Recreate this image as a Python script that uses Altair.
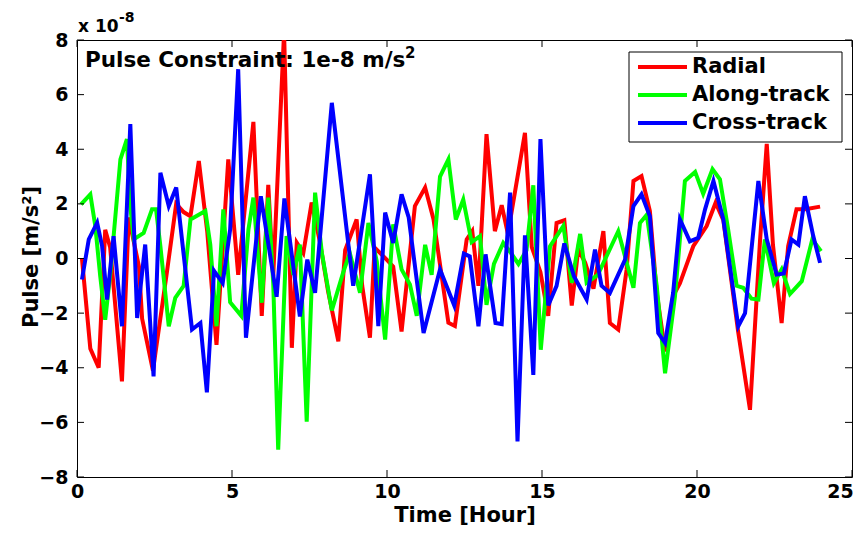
import altair as alt
import pandas as pd

# ---------------- data ----------------
series_names = ["Radial", "Along-track", "Cross-track"]
series_colors = ["#ff0000", "#00ff00", "#0000ff"]

radial_hour = [0.16, 0.43, 0.70, 0.91, 1.07, 1.45, 1.67, 2.00, 2.10, 2.45, 2.90, 3.20, 3.44, 3.66,
               3.93, 4.20, 4.50, 4.88, 5.20, 5.69, 5.96, 6.17, 6.33, 6.68, 6.93, 7.09, 7.30, 7.57,
               7.84, 8.10, 8.43, 8.65, 9.02, 9.20, 9.45, 9.60, 9.99, 10.20, 10.47, 10.90, 11.23,
               11.50, 11.98, 12.19, 12.57, 12.75, 12.95, 13.21, 13.48, 13.70, 13.90, 14.45, 14.67,
               14.95, 15.20, 15.47, 15.72, 15.96, 16.17, 16.39, 16.66, 16.98, 17.19, 17.46, 17.73,
               17.95, 18.21, 18.48, 18.70, 18.97, 19.23, 19.45, 19.88, 20.31, 20.60, 20.85, 21.33,
               21.71, 22.03, 22.25, 22.45, 22.73, 22.94, 23.21, 23.50, 23.97]
radial_val = [0.0, -3.3, -4.0, 1.05, 0.4, -4.5, 1.5, -0.3, -2.2, -4.1, -0.5, 2.0, 1.7, 1.55,
              3.57, 1.0, -3.16, 3.63, -0.6, 5.0, -2.1, 2.7, -0.65, 8.3, -3.27, 0.58, 0.2, 2.05,
              0.58, -1.2, -3.03, 0.3, 1.43, -1.0, -2.9, 0.4, -0.04, -0.3, -2.67, 1.92, 2.6,
              1.44, -2.35, -2.47, 0.7, 1.0, -1.0, 4.55, 1.0, 1.95, 0.9, 4.6, 0.42,
              -0.5, -2.1, 1.3, 1.4, -1.72, 0.33, -0.15, -1.1, 1.0, -2.36, -2.6, -0.4,
              2.84, 3.02, 1.74, -1.25, -3.4, -1.38, -0.9, 0.45, 1.19, 2.04, 1.4, -2.7,
              -5.54, 0.6, 4.2, 0.5, -2.36, 0.45, 1.8, 1.8, 1.9]

along_hour = [0.13, 0.43, 0.59, 0.75, 0.91, 1.08, 1.18, 1.40, 1.61, 1.72, 1.83, 2.15, 2.42, 2.55,
              2.69, 2.96, 3.17, 3.44, 3.66, 4.14, 4.30, 4.50, 4.72, 4.94, 5.30, 5.53, 5.69, 5.96,
              6.17, 6.33, 6.49, 6.76, 6.98, 7.19, 7.41, 7.68, 7.90, 8.22, 8.59, 8.80, 9.13, 9.40,
              9.67, 9.94, 10.20, 10.47, 10.74, 10.96, 11.23, 11.44, 11.71, 11.98, 12.22, 12.46,
              12.73, 13.00, 13.21, 13.45, 13.75, 14.00, 14.24, 14.50, 14.72, 14.96, 15.26, 15.69,
              15.96, 16.23, 16.44, 16.80, 17.46, 17.95, 18.16, 18.38, 18.70, 18.97, 19.29, 19.61,
              19.94, 20.20, 20.50, 20.74, 21.00, 21.28, 21.49, 21.76, 21.98, 22.19, 22.48, 22.73,
              23.00, 23.38, 23.72, 24.00]
along_val = [1.98, 2.35, 1.19, -0.65, -2.24, -0.5, 0.8, 3.63, 4.37, 1.9, 0.7, 0.94, 1.8, 1.8,
             0.45, -2.48, -1.44, -1.0, 1.43, 1.74, 0.5, -2.48, 1.8, -1.6, -2.1, 1.06, 2.23, -1.62,
             2.23, -0.9, -7.0, 0.82, -0.6, 0.51, -5.97, 2.41, 0.2, -1.9, -0.5, 0.2, -1.25, 1.3,
             -0.1, -2.97, 1.25, -0.4, -0.95, -2.1, 0.5, -0.6, 3.0, 3.63, 1.43, 2.16,
             0.6, 0.82, -1.7, -0.2, 0.57, 0.2, -0.2, 0.3, 2.68, -3.34, 0.45, 1.19,
             -0.89, 0.9, -0.89, -0.6, 1.0, -1.07, 1.3, 1.6, -1.0, -4.2, -1.38, 2.84,
             3.17, 2.37, 3.27, 2.9, 1.1, -1.0, -1.07, -1.47, -1.5, 0.7, -0.9, -0.4,
             -1.3, -0.83, 0.7, 0.27]

cross_hour = [0.16, 0.38, 0.65, 0.81, 0.97, 1.18, 1.45, 1.72, 1.94, 2.20, 2.47, 2.69, 2.96, 3.20,
              3.71, 3.98, 4.19, 4.42, 4.70, 4.94, 5.20, 5.45, 5.93, 6.44, 6.69, 7.19, 7.43, 7.68,
              8.22, 8.91, 9.45, 9.72, 9.94, 10.20, 10.47, 10.70, 11.18, 11.71, 12.17, 12.48, 12.67,
              12.95, 13.18, 13.50, 13.70, 13.97, 14.21, 14.45, 14.72, 14.95, 15.20, 15.47, 15.72,
              16.03, 16.44, 16.71, 16.92, 17.19, 17.68, 17.95, 18.21, 18.48, 18.75, 18.97, 19.23,
              19.45, 19.77, 20.04, 20.26, 20.53, 20.85, 21.33, 21.55, 21.98, 22.25, 22.57, 22.80,
              23.05, 23.27, 23.48, 23.75, 23.97]
cross_val = [-0.77, 0.7, 1.31, 0.45, -1.5, 0.82, -2.48, 4.92, -2.18, 0.51, -4.32, 3.14, 1.92, 2.6,
             -2.6, -2.36, -4.9, -0.45, -0.9, 1.06, 6.93, -2.9, 2.28, -1.4, 2.2, -2.12, -0.04, -1.26,
             5.7, -1.0, 3.08, -2.48, 1.68, 0.57, 2.35, 1.5, -2.73, -0.4, -1.72, 0.18, 0.08,
             -2.48, 0.15, -2.36, -2.4, 2.41, -6.7, 0.85, -4.26, 4.37, -1.72, -1.0, 0.55,
             -0.65, -1.5, 0.33, -1.0, -1.26, -0.04, 1.92, 2.35, 1.55, -2.73, -3.09, -1.26,
             1.43, 0.63, 0.76, 1.8, 2.84, 1.43, -2.48, -2.0, 2.84, 0.7, -0.59, -0.55,
             0.7, 0.51, 2.28, 0.82, -0.16]

x_ticks = [0, 5, 10, 15, 20, 25]
y_ticks = [-8, -6, -4, -2, 0, 2, 4, 6, 8]

# ---------------- build tables ----------------
frames = []
for name, hrs, vals in [("Radial", radial_hour, radial_val),
                        ("Along-track", along_hour, along_val),
                        ("Cross-track", cross_hour, cross_val)]:
    frames.append(pd.DataFrame({"hour": hrs, "pulse": vals, "series": name}))

W, H = 775, 437
FONT = "DejaVu Sans"

X = alt.X("hour:Q",
          scale=alt.Scale(domain=[0, 25], nice=False, zero=False),
          axis=alt.Axis(values=x_ticks, title="Time [Hour]", labelPadding=5, labelFlush=False,
                        labelOffset=alt.ExprRef("datum.value == 25 ? -12 : 0"),
                        titleY=44, titleBaseline="alphabetic"))
Y = alt.Y("pulse:Q",
          scale=alt.Scale(domain=[-8, 8], nice=False, zero=False),
          axis=alt.Axis(values=y_ticks, title="Pulse [m/s²]", format="d", labelPadding=9,
                        labelFlush=False,
                        titleX=-40, titleY=H / 2 - 2, titleAngle=270, titleBaseline="alphabetic"))
color = alt.Color("series:N", scale=alt.Scale(domain=series_names, range=series_colors), legend=None)

layers = []
for df in frames:
    layers.append(alt.Chart(df).mark_line(strokeWidth=4, clip=True).encode(x=X, y=Y, color=color))

# inward ticks (MATLAB style box)
ydf = pd.DataFrame({"pulse": y_ticks})
xdf = pd.DataFrame({"hour": x_ticks})
layers.append(alt.Chart(ydf).mark_rule(color="black", strokeWidth=1).encode(
    y=Y, x=alt.value(0), x2=alt.value(7)))
layers.append(alt.Chart(ydf).mark_rule(color="black", strokeWidth=1).encode(
    y=Y, x=alt.value(W - 7), x2=alt.value(W)))
layers.append(alt.Chart(xdf).mark_rule(color="black", strokeWidth=1).encode(
    x=X, y=alt.value(H - 7), y2=alt.value(H)))
layers.append(alt.Chart(xdf).mark_rule(color="black", strokeWidth=1).encode(
    x=X, y=alt.value(0), y2=alt.value(7)))

one = pd.DataFrame({"a": [0]})

# annotation texts
layers.append(alt.Chart(one).mark_text(text="Pulse Constraint: 1e-8 m/s", font=FONT, fontWeight="bold",
                                       fontSize=21.5, align="left", baseline="alphabetic", color="black")
              .encode(x=alt.value(8), y=alt.value(27)))
layers.append(alt.Chart(one).mark_text(text="2", font=FONT, fontWeight="bold",
                                       fontSize=15, align="left", baseline="alphabetic", color="black")
              .encode(x=alt.value(328), y=alt.value(18)))
layers.append(alt.Chart(one).mark_text(text="x 10", font=FONT, fontWeight="bold",
                                       fontSize=17, align="left", baseline="alphabetic", color="black")
              .encode(x=alt.value(1), y=alt.value(-8)))
layers.append(alt.Chart(one).mark_text(text="-8", font=FONT, fontWeight="bold",
                                       fontSize=14, align="left", baseline="alphabetic", color="black")
              .encode(x=alt.value(42), y=alt.value(-18)))

# legend box (manual, MATLAB style)
LX0, LX1, LY0, LY1 = 552, 765, 12, 102
layers.append(alt.Chart(one).mark_rect(fill="white", stroke="black", strokeWidth=1).encode(
    x=alt.value(LX0), x2=alt.value(LX1), y=alt.value(LY0), y2=alt.value(LY1)))
row_y = [27, 55, 83]
for name, col, ry in zip(series_names, series_colors, row_y):
    layers.append(alt.Chart(one).mark_rule(color=col, strokeWidth=4).encode(
        x=alt.value(561), x2=alt.value(610), y=alt.value(ry)))
    layers.append(alt.Chart(one).mark_text(text=name, font=FONT, fontWeight="bold", fontSize=21,
                                           align="left", baseline="middle", color="black")
                  .encode(x=alt.value(615), y=alt.value(ry)))

chart = (alt.layer(*layers)
         .properties(width=W, height=H,
                     autosize=alt.AutoSizeParams(type="none"),
                     padding={"left": 69, "top": 32, "right": 3, "bottom": 49},
                     background="white")
         .configure_view(stroke="black", strokeWidth=1)
         .configure_axis(domain=False, ticks=False, grid=False,
                         labelFont=FONT, labelFontWeight="bold", labelFontSize=19, labelColor="black",
                         titleFont=FONT, titleFontWeight="bold", titleFontSize=21, titleColor="black"))

chart.save("out.html", embed_options={"renderer": "svg", "actions": False})
